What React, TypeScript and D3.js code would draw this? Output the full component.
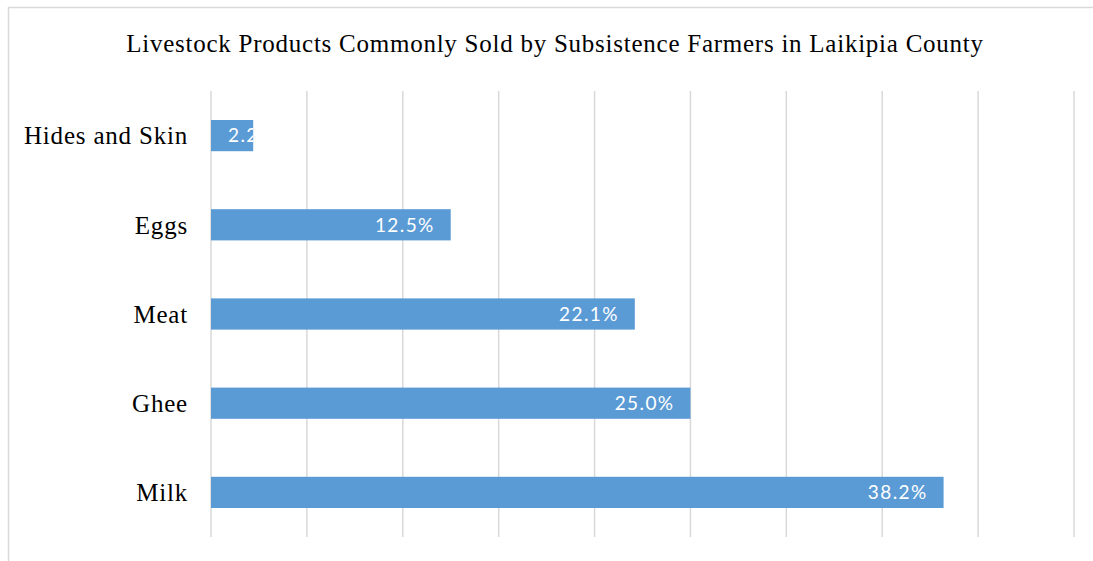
import React from "react";
import * as d3 from "d3";

const categories = ["Hides and Skin", "Eggs", "Meat", "Ghee", "Milk"];
const values = [2.2, 12.5, 22.1, 25.0, 38.2];
const gridTicks = [0, 5, 10, 15, 20, 25, 30, 35, 40, 45];
const title = "Livestock Products Commonly Sold by Subsistence Farmers in Laikipia County";

const W = 1093;
const H = 561;
const plotLeft = 211;
const plotRight = 1074;
const plotTop = 91;
const plotBottom = 537;
const barColor = "#5B9BD5";
const gridColor = "#D9D9D9";
const serif = "'Liberation Serif', 'Times New Roman', serif";

export default function App() {
  const x = d3.scaleLinear().domain([0, 45]).range([plotLeft, plotRight]);
  const y = d3
    .scaleBand<string>()
    .domain(categories)
    .range([plotTop, plotBottom])
    .paddingInner(0.65)
    .paddingOuter(0.325);

  return (
    <svg
      width={W}
      height={H}
      style={{ position: "absolute", left: 0, top: 0, background: "#fff" }}
    >
      <defs>
        {categories.map((c, i) => (
          <clipPath id={`clip-${i}`} key={c}>
            <rect x={x(0)} y={y(c)} width={x(values[i]) - x(0)} height={y.bandwidth()} />
          </clipPath>
        ))}
      </defs>
      <rect x={8.5} y={7.5} width={W + 20} height={H + 20} fill="#fff" stroke={gridColor} strokeWidth={1.5} />
      <text
        x={555}
        y={52}
        textAnchor="middle"
        fontFamily={serif}
        fontSize={25}
        letterSpacing={0.75}
        fill="#000"
      >
        {title}
      </text>
      {gridTicks.map((t) => (
        <line
          key={t}
          x1={x(t)}
          x2={x(t)}
          y1={plotTop}
          y2={plotBottom}
          stroke={gridColor}
          strokeWidth={1.5}
        />
      ))}
      {categories.map((c, i) => {
        const v = values[i];
        const bx = x(0);
        const bw = x(v) - x(0);
        const by = y(c)!;
        const cy = by + y.bandwidth() / 2;
        const label = `${v.toFixed(1)}%`;
        const fits = bw > 80;
        return (
          <g key={c}>
            <rect x={bx} y={by} width={bw} height={y.bandwidth()} fill={barColor} />
            <text
              x={188}
              y={cy}
              dy="0.35em"
              textAnchor="end"
              fontFamily={serif}
              fontSize={25}
              letterSpacing={0.8}
              fill="#000"
            >
              {c}
            </text>
            <text
              x={fits ? x(v) - 16 : bx + 17}
              y={cy}
              dy="0.36em"
              textAnchor={fits ? "end" : "start"}
              fontFamily="Lato, 'Open Sans', sans-serif"
              fontSize={19}
              letterSpacing={1.4}
              fill="#fff"
              clipPath={`url(#clip-${i})`}
            >
              {label}
            </text>
          </g>
        );
      })}
    </svg>
  );
}
